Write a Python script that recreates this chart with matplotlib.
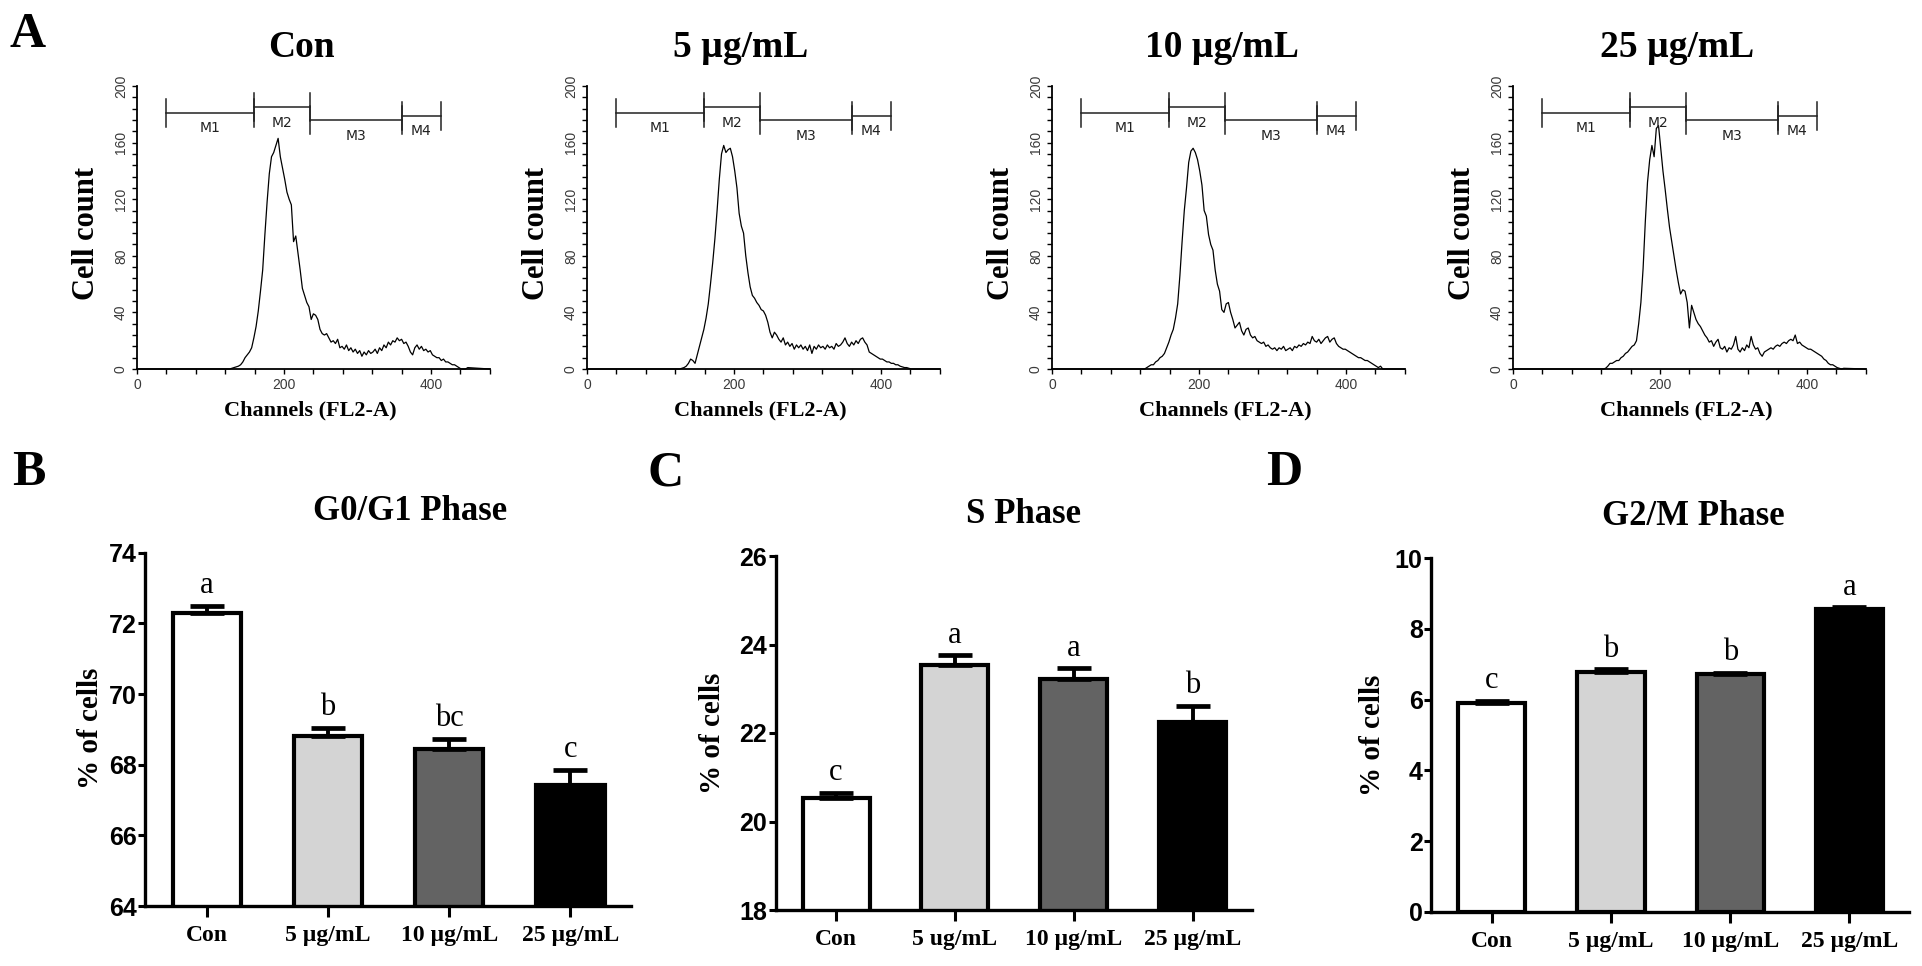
import matplotlib
matplotlib.use('Agg')
import matplotlib.pyplot as plt
import numpy as np

SERIF = ['Liberation Serif', 'DejaVu Serif']
SANS = ['Liberation Sans', 'DejaVu Sans']

# ---------------- data: flow cytometry histograms (A) ----------------
hist_titles = ['Con', '5 µg/mL', '10 µg/mL', '25 µg/mL']
channel_start = 120
channel_step = 3
con_counts = [0, 0, 0, 0.5, 1, 1.5, 2, 3, 5, 8, 10, 12, 15, 22, 30, 41, 55, 70, 95, 118,
              138, 150, 153, 158, 163, 150, 142, 134, 125, 120, 116, 90, 94, 82, 70, 57, 52, 47, 44, 35,
              39, 38, 35, 28, 25, 24, 25, 22, 19, 20, 18, 21, 15, 16, 14, 17, 13, 15, 12, 14,
              11, 13, 9, 12, 10, 13, 11, 12, 14, 11, 15, 13, 17, 15, 19, 17, 20, 19, 22, 20,
              21, 18, 19, 16, 12, 10, 15, 17, 14, 16, 13, 14, 12, 13, 10, 9, 8, 8, 6, 7,
              5, 5, 4, 3, 3, 2, 1, 0, 0, 0, 1]
c5_counts = [0, 0, 0, 0.5, 1, 2, 4, 7, 6, 4, 10, 16, 22, 28, 36, 46, 60, 75, 92, 112,
             134, 152, 158, 153, 155, 156, 150, 140, 128, 110, 101, 96, 80, 68, 58, 52, 50, 47, 45, 42,
             41, 38, 33, 26, 22, 26, 24, 21, 19, 22, 17, 19, 16, 18, 14, 17, 15, 17, 14, 16,
             13, 17, 11, 16, 14, 17, 15, 16, 14, 17, 15, 16, 14, 18, 16, 17, 19, 22, 18, 16,
             19, 17, 20, 18, 21, 22, 19, 17, 12, 11, 10, 9, 8, 7, 7, 6, 5, 5, 4, 4,
             3, 3, 2, 1.5, 1, 1, 0.5, 0, 0, 0, 0]
c10_counts = [0, 0, 0, 1, 2, 3, 3, 5, 6, 8, 9, 11, 15, 19, 24, 28, 36, 46, 66, 90,
              112, 128, 146, 154, 156, 153, 148, 140, 130, 112, 108, 95, 88, 84, 70, 60, 55, 42, 40, 46,
              47, 40, 35, 29, 31, 33, 27, 24, 28, 29, 24, 22, 23, 20, 19, 18, 19, 16, 17, 15,
              14, 15, 13, 15, 14, 16, 13, 14, 15, 13, 16, 15, 17, 16, 18, 17, 19, 18, 23, 20,
              19, 21, 18, 20, 22, 23, 19, 21, 22, 18, 16, 15, 14, 14, 13, 12, 11, 10, 9, 8,
              8, 7, 6, 6, 5, 4, 3, 2, 1, 2, 0]
c25_counts = [0, 0, 0.5, 2, 4, 4, 5, 6, 6, 8, 9, 11, 12, 14, 16, 17, 20, 32, 47, 71,
              104, 132, 148, 158, 150, 170, 172, 156, 140, 127, 113, 100, 90, 80, 70, 61, 53, 56, 55, 47,
              29, 45, 40, 35, 32, 30, 27, 24, 22, 19, 20, 16, 19, 21, 15, 14, 16, 12, 15, 14,
              17, 23, 14, 12, 15, 13, 17, 15, 23, 17, 14, 15, 11, 9, 12, 13, 14, 15, 14, 16,
              17, 16, 18, 19, 18, 20, 21, 20, 24, 18, 19, 17, 16, 15, 14, 14, 13, 12, 11, 10,
              9, 7, 6, 4, 3, 3, 2, 1, 0.5, 0, 0.5]
hist_counts = [con_counts, c5_counts, c10_counts, c25_counts]
gate_names = ['M1', 'M2', 'M3', 'M4']
gate_starts = [40, 159, 236, 360]
gate_ends = [159, 236, 360, 414]
gate_levels = [181, 185, 176, 179]

# ---------------- data: bar charts (B, C, D) ----------------
cats_B = ['Con', '5 µg/mL', '10 µg/mL', '25 µg/mL']
cats_C = ['Con', '5 ug/mL', '10 µg/mL', '25 µg/mL']
cats_D = ['Con', '5 µg/mL', '10 µg/mL', '25 µg/mL']
g0g1_mean = [72.28, 68.81, 68.43, 67.42]
g0g1_sem = [0.22, 0.24, 0.31, 0.43]
g0g1_letters = ['a', 'b', 'bc', 'c']
s_mean = [20.52, 23.54, 23.22, 22.24]
s_sem = [0.13, 0.22, 0.24, 0.38]
s_letters = ['c', 'a', 'a', 'b']
g2m_mean = [5.90, 6.79, 6.72, 8.56]
g2m_sem = [0.07, 0.07, 0.04, 0.05]
g2m_letters = ['c', 'b', 'b', 'a']
bar_colors = ['white', '#d4d4d4', '#636363', 'black']

W, H = 1922, 966
fig = plt.figure(figsize=(W / 100, H / 100), dpi=100)
fig.patch.set_facecolor('white')


def fx(px):
    return px / W


def fy(py):
    return 1 - py / H


# ---------------- histograms ----------------
hist_left = [137, 587, 1052, 1513]
title_xfrac = [0.465, 0.435, 0.482, 0.465]
for i in range(4):
    ax = fig.add_axes([fx(hist_left[i]), fy(369), 352.8 / W, 283 / H])
    counts = hist_counts[i]
    grid = channel_start + channel_step * np.arange(len(counts))
    xs = np.concatenate([[0], grid, [480]])
    ys = np.concatenate([[0], counts, [0]])
    ax.plot(xs, ys, color='black', lw=0.9, zorder=3, clip_on=False)
    ax.set_xlim(0, 480)
    ax.set_ylim(0, 200)
    for s in ['top', 'right']:
        ax.spines[s].set_visible(False)
    for s in ['left', 'bottom']:
        ax.spines[s].set_linewidth(1.3)
    ax.set_xticks([0, 200, 400])
    ax.set_xticks([40, 80, 120, 160, 240, 280, 320, 360, 440, 480], minor=True)
    ax.set_yticks([0, 40, 80, 120, 160, 200])
    ax.set_yticks([v for v in range(0, 201, 8) if v % 40 != 0], minor=True)
    ax.tick_params(which='both', direction='out', length=3.5, width=1.0, color='black')
    ax.tick_params(axis='both', labelsize=10, labelcolor='#3a3a3a', pad=3)
    ax.tick_params(axis='y', labelrotation=90)
    for lab in ax.get_yticklabels():
        lab.set_va('center')
        lab.set_family(SANS)
    for lab in ax.get_xticklabels():
        lab.set_family(SANS)
    # gates
    for g in range(4):
        ax.plot([gate_starts[g], gate_ends[g]], [gate_levels[g], gate_levels[g]],
                color='#222222', lw=1.1, clip_on=False)
        for xe in (gate_starts[g], gate_ends[g]):
            ax.plot([xe, xe], [gate_levels[g] - 10, gate_levels[g] + 10],
                    color='#222222', lw=1.1, clip_on=False)
        ax.text((gate_starts[g] + gate_ends[g]) / 2, gate_levels[g] - 11, gate_names[g],
                ha='center', va='center', fontsize=10, color='#222222', family=['DejaVu Sans'])
    ax.text(title_xfrac[i], 1.102, hist_titles[i], transform=ax.transAxes, ha='center',
            va='baseline', fontsize=27, fontweight='bold', family=SERIF)
    ax.text(-0.142, 0.48, 'Cell count', transform=ax.transAxes, rotation=90, ha='center',
            va='center', fontsize=22, fontweight='bold', family=SERIF)
    ax.text(0.49, -0.145, 'Channels (FL2-A)', transform=ax.transAxes, ha='center',
            va='center', fontsize=16, fontweight='bold', family=SERIF)


# ---------------- bar charts ----------------
def bar_panel(left, right, top, bottom, ylim, yticks, cats, means, sems, letters,
              title, title_x, title_y, ylab_x, ylab_y):
    ax = fig.add_axes([fx(left), fy(bottom), (right - left) / W, (bottom - top) / H])
    xs = np.arange(len(cats))
    ax.bar(xs, means, width=0.565, color=bar_colors, edgecolor='black', linewidth=3.0, zorder=2)
    ax.errorbar(xs, means, yerr=[np.zeros(len(cats)), sems], fmt='none', ecolor='black',
                elinewidth=2.8, capsize=12, capthick=3.4, zorder=3)
    for i in range(len(cats)):
        ax.annotate(letters[i], (xs[i], means[i] + sems[i]), xytext=(0, 9),
                    textcoords='offset points', ha='center', va='baseline', fontsize=22,
                    family=SERIF, annotation_clip=False)
    ax.set_xlim(-0.51, 3.5)
    ax.set_ylim(*ylim)
    ax.set_yticks(yticks)
    ax.set_xticks(xs)
    ax.set_xticklabels(cats)
    for s in ['top', 'right']:
        ax.spines[s].set_visible(False)
    for s in ['left', 'bottom']:
        ax.spines[s].set_linewidth(2.4)
    ax.tick_params(axis='y', direction='out', length=5, width=2.2, labelsize=18, pad=1)
    ax.tick_params(axis='x', direction='out', length=8, width=2.2, labelsize=17, pad=6)
    for lab in ax.get_yticklabels():
        lab.set_fontweight('bold')
        lab.set_family(SANS)
    for lab in ax.get_xticklabels():
        lab.set_fontweight('bold')
        lab.set_family(SERIF)
    fig.text(fx(title_x), fy(title_y), title, ha='center', va='baseline', fontsize=25,
             fontweight='bold', family=SERIF)
    fig.text(fx(ylab_x), fy(ylab_y), '% of cells', ha='center', va='center', rotation=90,
             fontsize=21, fontweight='bold', family=SERIF)
    return ax


bar_panel(145, 631, 552.7, 906, (64, 74), [64, 66, 68, 70, 72, 74], cats_B,
          g0g1_mean, g0g1_sem, g0g1_letters, 'G0/G1 Phase', 410, 520, 90, 728)
bar_panel(775.5, 1252, 556, 910, (18, 26), [18, 20, 22, 24, 26], cats_C,
          s_mean, s_sem, s_letters, 'S Phase', 1023, 523, 713, 733)
bar_panel(1431, 1909, 558.3, 911.7, (0, 10), [0, 2, 4, 6, 8, 10], cats_D,
          g2m_mean, g2m_sem, g2m_letters, 'G2/M Phase', 1693, 525, 1373, 735)

# panel letters
for letter, px, py in [('A', 10, 47), ('B', 12, 485), ('C', 648, 485), ('D', 1266, 485)]:
    fig.text(fx(px), fy(py), letter, ha='left', va='baseline', fontsize=36,
             fontweight='bold', family=SERIF)

fig.savefig('out.png', dpi=100, facecolor='white')
